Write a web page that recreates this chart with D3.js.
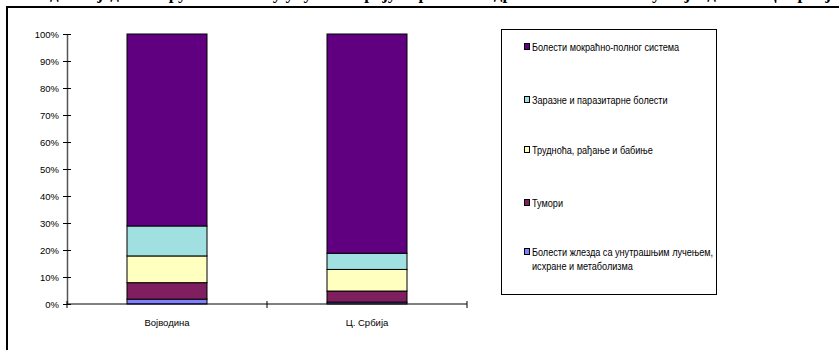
<!DOCTYPE html>
<html>
<head>
<meta charset="utf-8">
<script src="https://cdn.jsdelivr.net/npm/d3@7"></script>
<style>
  html, body { margin: 0; padding: 0; background: #fff; overflow: hidden; }
  svg { display: block; }
</style>
</head>
<body>
<svg id="chart" width="839" height="350"></svg>
<script>
// Regions on the x axis
const categories = ["Војводина", "Ц. Србија"];

// Disease groups, stacked from the bottom up
const groups = [
  "Болести жлезда са унутрашњим лучењем, исхране и метаболизма",
  "Тумори",
  "Трудноћа, рађање и бабиње",
  "Заразне и паразитарне болести",
  "Болести мокраћно-полног система"
];

// Share of each group (%) per region, same order as groups
const vojvodina = [1.8, 6.1, 9.9, 11.1, 71.1];
const centralSerbia = [0.7, 4.1, 8.0, 6.0, 81.2];

const yTickLabels = ["0%", "10%", "20%", "30%", "40%", "50%", "60%", "70%", "80%", "90%", "100%"];

const colors = ["#8080ff", "#801f60", "#ffffc0", "#a0e0e0", "#600080"];

const title = "Удео појединих група болести у укупном броју корисника здравствене заштите у Војводини и Ц. Србији";

const svg = d3.select("#chart");
const font = "'Liberation Sans', Arial, sans-serif";

// Title line, sitting mostly above the top edge of the page
svg.append("text")
  .attr("x", 440).attr("y", -1)
  .attr("text-anchor", "middle")
  .attr("font-family", "'Liberation Serif', 'Times New Roman', serif")
  .attr("font-weight", "bold")
  .attr("font-size", 17)
  .text(title);

// Outer frame (top and left edges)
svg.append("path")
  .attr("d", "M7,350 L7,7 L839,7")
  .attr("fill", "none")
  .attr("stroke", "#000")
  .attr("stroke-width", 2);

const plot = { left: 67, right: 467, top: 34, bottom: 304 };

const x = d3.scaleBand()
  .domain(categories)
  .range([plot.left, plot.right])
  .paddingInner(0.6)
  .paddingOuter(0.3);

const y = d3.scaleLinear().domain([0, 100]).range([plot.bottom, plot.top]);

// Stack the data
const rows = categories.map((c, i) => {
  const vals = i === 0 ? vojvodina : centralSerbia;
  const r = { category: c };
  groups.forEach((g, j) => r[g] = vals[j]);
  return r;
});
const series = d3.stack().keys(groups)(rows);

const g = svg.append("g");
series.forEach((s, j) => {
  g.selectAll(null)
    .data(s)
    .join("rect")
    .attr("x", d => x(d.data.category))
    .attr("width", x.bandwidth())
    .attr("y", d => y(d[1]))
    .attr("height", d => y(d[0]) - y(d[1]))
    .attr("fill", colors[j])
    .attr("stroke", "#000")
    .attr("stroke-width", 1);
});

// Y axis
const yAxis = d3.axisLeft(y)
  .tickValues(d3.range(0, 101, 10))
  .tickFormat((d, i) => yTickLabels[i])
  .tickSizeInner(4)
  .tickSizeOuter(0)
  .tickPadding(4);
const ya = svg.append("g").attr("transform", `translate(${plot.left},0)`).call(yAxis);
ya.selectAll(".tick line").attr("x1", -4).attr("x2", 4);
ya.select(".domain").attr("stroke", "#555").attr("stroke-width", 1.5);
ya.selectAll("text").attr("font-family", font).attr("font-size", 9.5).attr("fill", "#000");

// X axis: baseline with tick marks at category boundaries
const xBase = svg.append("g");
xBase.append("line")
  .attr("x1", plot.left).attr("x2", plot.right)
  .attr("y1", plot.bottom).attr("y2", plot.bottom)
  .attr("stroke", "#000").attr("stroke-width", 1);
const step = (plot.right - plot.left) / categories.length;
d3.range(categories.length + 1).forEach(i => {
  xBase.append("line")
    .attr("x1", plot.left + i * step).attr("x2", plot.left + i * step)
    .attr("y1", plot.bottom - 3).attr("y2", plot.bottom + 4)
    .attr("stroke", "#000").attr("stroke-width", 1);
});
xBase.selectAll("text.cat")
  .data(categories)
  .join("text")
  .attr("class", "cat")
  .attr("x", d => x(d) + x.bandwidth() / 2)
  .attr("y", 326)
  .attr("text-anchor", "middle")
  .attr("font-family", font)
  .attr("font-size", 9.5)
  .text(d => d);

// Legend
const legend = svg.append("g");
legend.append("rect")
  .attr("x", 501.5).attr("y", 29.5)
  .attr("width", 215).attr("height", 265)
  .attr("fill", "#fff").attr("stroke", "#000").attr("stroke-width", 1);

const legendRows = [
  { idx: 4, y: 47, lines: ["Болести мокраћно-полног система"] },
  { idx: 3, y: 100, lines: ["Заразне и паразитарне болести"] },
  { idx: 2, y: 150, lines: ["Трудноћа, рађање и бабиње"] },
  { idx: 1, y: 203, lines: ["Тумори"] },
  { idx: 0, y: 252, lines: ["Болести жлезда са унутрашњим лучењем,", "исхране и метаболизма"] }
];
// Legend labels are set in a horizontally condensed face
const squeeze = 0.87;
legendRows.forEach(r => {
  legend.append("rect")
    .attr("x", 524.5).attr("y", r.y - 3.5)
    .attr("width", 5).attr("height", 6)
    .attr("fill", colors[r.idx]).attr("stroke", "#000").attr("stroke-width", 1);
  const t = legend.append("text")
    .attr("transform", `translate(532,${r.y + 3.5}) scale(${squeeze},1)`)
    .attr("font-family", font).attr("font-size", 10.5);
  r.lines.forEach((ln, k) => {
    t.append("tspan").attr("x", 0).attr("dy", k === 0 ? 0 : 15).text(ln);
  });
});
</script>
</body>
</html>
